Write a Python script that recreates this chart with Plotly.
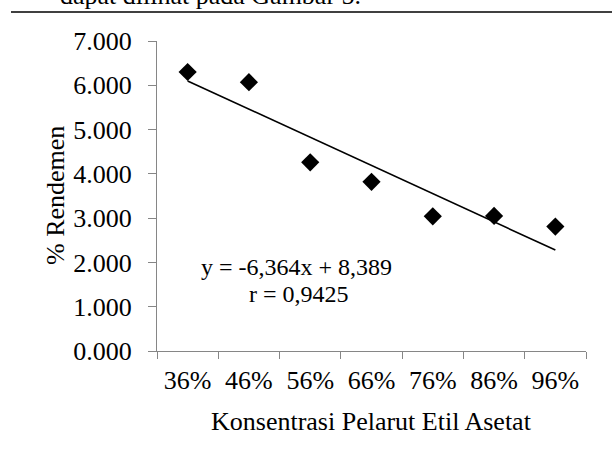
import plotly.graph_objects as go

# ---- data ----
categories = ["36%", "46%", "56%", "66%", "76%", "86%", "96%"]
concentration = [0.36, 0.46, 0.56, 0.66, 0.76, 0.86, 0.96]
rendemen = [6.30, 6.07, 4.26, 3.82, 3.04, 3.05, 2.81]
slope = -6.364
intercept = 8.389
equation_text = "y = -6,364x + 8,389"
r_text = "r = 0,9425"
x_title = "Konsentrasi Pelarut Etil Asetat"
y_title = "% Rendemen"
caption_text = "dapat dilihat pada Gambar 5."

trend = [slope * c + intercept for c in concentration]

# ---- layout geometry (pixels) ----
W, H = 612, 461
L, R, T, B = 157, 26, 41, 110
PW, PH = W - L - R, H - T - B
FONT = "Liberation Serif, Times New Roman, serif"
FS = 26
EQ_FS = 24
AXIS_COLOR = "#868686"


def px_x(x):
    return (x - L) / PW


def px_y(y):
    return (H - B - y) / PH


fig = go.Figure()
fig.add_trace(go.Scatter(
    x=categories, y=rendemen, mode="markers",
    marker=dict(symbol="diamond", size=14, color="black"),
    showlegend=False, cliponaxis=False,
))
fig.add_trace(go.Scatter(
    x=categories, y=trend, mode="lines",
    line=dict(color="black", width=1.6),
    showlegend=False,
))

fig.update_layout(
    width=W, height=H,
    margin=dict(l=L, r=R, t=T, b=B, pad=0),
    paper_bgcolor="white", plot_bgcolor="white",
    font=dict(family=FONT, size=FS, color="black"),
    xaxis=dict(
        type="category", categoryorder="array", categoryarray=categories,
        range=[-0.5, 6.5], tickson="boundaries",
        showline=True, linecolor=AXIS_COLOR, linewidth=1,
        ticks="outside", ticklen=7, tickcolor=AXIS_COLOR, tickwidth=1,
        showgrid=False, zeroline=False, ticklabelstandoff=6,
        tickfont=dict(family=FONT, size=FS, color="black"),
    ),
    yaxis=dict(
        range=[0, 7], dtick=1, tick0=0, tickformat=".3f",
        showline=True, linecolor=AXIS_COLOR, linewidth=1,
        ticks="outside", ticklen=8, tickcolor=AXIS_COLOR, tickwidth=1,
        showgrid=False, zeroline=False, ticklabelstandoff=11,
        tickfont=dict(family=FONT, size=FS, color="black"),
    ),
    annotations=[
        dict(text=x_title, xref="paper", yref="paper", x=px_x(371), y=px_y(421),
             xanchor="center", yanchor="middle", showarrow=False,
             font=dict(family=FONT, size=FS, color="black")),
        dict(text=y_title, xref="paper", yref="paper", x=px_x(55), y=px_y(196),
             xanchor="center", yanchor="middle", showarrow=False, textangle=-90,
             font=dict(family=FONT, size=FS, color="black")),
        dict(text=equation_text, xref="paper", yref="paper", x=px_x(296), y=px_y(267),
             xanchor="center", yanchor="middle", showarrow=False,
             font=dict(family=FONT, size=EQ_FS, color="black")),
        dict(text=r_text, xref="paper", yref="paper", x=px_x(299), y=px_y(294),
             xanchor="center", yanchor="middle", showarrow=False,
             font=dict(family=FONT, size=EQ_FS, color="black")),
        dict(text=caption_text, xref="paper", yref="paper", x=px_x(58), y=px_y(-4),
             xanchor="left", yanchor="middle", showarrow=False,
             font=dict(family=FONT, size=FS, color="black")),
    ],
    shapes=[
        dict(type="line", xref="paper", yref="paper",
             x0=px_x(11), x1=px_x(612), y0=px_y(12), y1=px_y(12),
             line=dict(color="black", width=1.5)),
    ],
)

fig.write_html("out.html", config={"displayModeBar": False})
